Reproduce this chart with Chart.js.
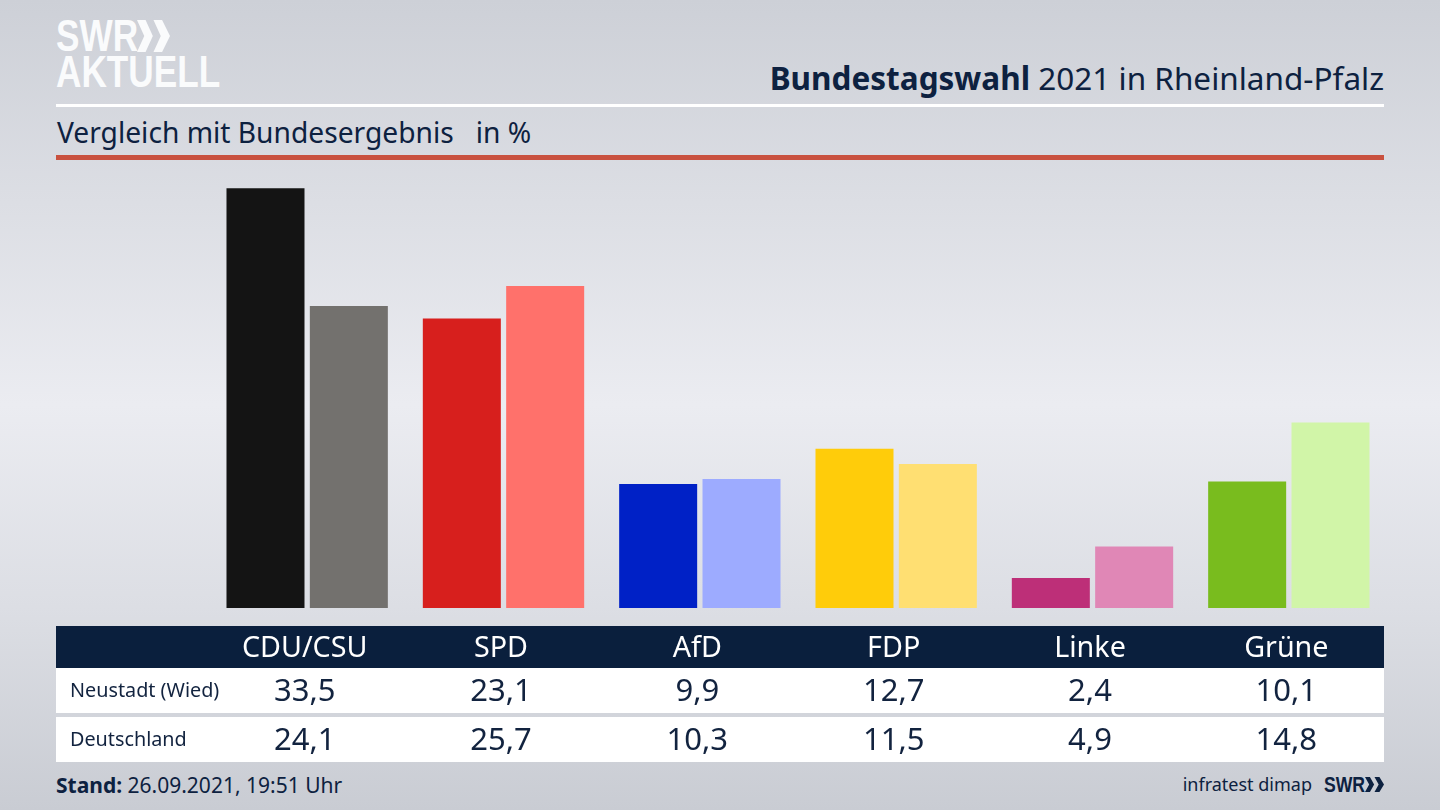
<!DOCTYPE html>
<html lang="de">
<head>
<meta charset="utf-8">
<title>Bundestagswahl 2021 in Rheinland-Pfalz</title>
<script src="https://cdn.jsdelivr.net/npm/chart.js@4"></script>
<style>
  html, body { margin: 0; padding: 0; }
  body {
    position: relative; width: 1440px; height: 810px; overflow: hidden;
    font-family: "Noto Sans", sans-serif; color: #0d2140;
    background: linear-gradient(180deg, #cdd0d7 0%, #dcdee4 25%, #ebecf1 50%, #dcdee4 75%, #c9ccd3 100%);
  }
  .abs { position: absolute; white-space: nowrap; }
  #chart { position: absolute; left: 0; top: 0; z-index: 2; }
  .logo { font-weight: 700; color: #fafbfc; font-family: "Liberation Sans", sans-serif; transform-origin: left top; }
  .band { left: 56px; width: 1328px; }
</style>
</head>
<body>
<div class="abs logo" style="left:56px;top:13px;font-size:44px;line-height:46px;transform:scaleX(0.8);">SWR</div>
<svg class="abs" style="left:137px;top:20px;" width="33" height="32" viewBox="0 0 50 34" preserveAspectRatio="none">
  <path d="M0 0h13l11 17-11 17H0l11-17zM25 0h13l12 17-12 17H25l11-17z" fill="#fafbfc"/>
</svg>
<div class="abs logo" style="left:56px;top:49px;font-size:44px;line-height:46px;transform:scaleX(0.8);">AKTUELL</div>

<div class="abs" style="right:56px;top:57px;font-size:31.5px;line-height:42px;"><b>Bundestagswahl</b> 2021 in Rheinland-Pfalz</div>
<div class="abs band" style="top:104px;height:3px;background:#fff;"></div>
<div class="abs" style="left:57px;top:112px;font-size:28.2px;line-height:40px;">Vergleich mit Bundesergebnis&nbsp;&nbsp; in %</div>
<div class="abs band" style="top:155px;height:5px;background:#c9513f;"></div>

<div class="abs band" style="top:626px;height:42px;background:#0a1f3d;"></div>
<div class="abs band" style="top:668px;height:45px;background:#fff;"></div>
<div class="abs band" style="top:717px;height:45px;background:#fff;"></div>

<div class="abs" style="left:56px;top:772px;font-size:21px;line-height:27px;"><b>Stand:</b> 26.09.2021, 19:51 Uhr</div>
<div class="abs" style="right:128px;top:771px;font-size:18px;line-height:27px;">infratest dimap</div>
<div class="abs" style="left:1324px;top:771px;font-size:22px;line-height:27px;font-weight:700;font-family:'Liberation Sans',sans-serif;transform:scaleX(0.8);transform-origin:left top;">SWR</div>
<svg class="abs" style="left:1365px;top:777px;" width="19" height="15" viewBox="0 0 50 34" preserveAspectRatio="none">
  <path d="M0 0h13l11 17-11 17H0l11-17zM25 0h13l12 17-12 17H25l11-17z" fill="#0d2140"/>
</svg>

<canvas id="chart" width="1440" height="810"></canvas>

<script>
const parties = ['CDU/CSU', 'SPD', 'AfD', 'FDP', 'Linke', 'Grüne'];
const neustadt = [33.5, 23.1, 9.9, 12.7, 2.4, 10.1];
const deutschland = [24.1, 25.7, 10.3, 11.5, 4.9, 14.8];
const neustadtColors = ['#141414', '#d71f1d', '#0021c6', '#ffcc0a', '#bd2f78', '#79bc1e'];
const deutschlandColors = ['#73716e', '#ff716b', '#9dabff', '#ffdf72', '#e087b6', '#d1f5a8'];
const rowLabels = ['Neustadt (Wied)', 'Deutschland'];

const FONT = '"Noto Sans", sans-serif';

function fmt(v) {
  return v.toFixed(1).replace('.', ',');
}

// Zeilen unter dem Diagramm, an der x-Achse ausgerichtet
const tableRows = {
  id: 'tableRows',
  afterDraw(chart) {
    const ctx = chart.ctx;
    const x = chart.scales.x;
    const rows = [[neustadt, 692], [deutschland, 741]];
    ctx.save();
    ctx.fillStyle = '#12233f';
    ctx.textBaseline = 'middle';
    rows.forEach(([values, y], r) => {
      ctx.textAlign = 'left';
      ctx.font = '19.8px ' + FONT;
      ctx.fillText(rowLabels[r], 70, y - 1);
      ctx.textAlign = 'center';
      ctx.font = '31px ' + FONT;
      values.forEach((v, i) => {
        ctx.fillText(fmt(v), x.getPixelForTick(i) - 2.5, y);
      });
    });
    ctx.restore();
  }
};

new Chart(document.getElementById('chart'), {
  type: 'bar',
  data: {
    labels: parties,
    datasets: [
      { label: rowLabels[0], data: neustadt, backgroundColor: neustadtColors },
      { label: rowLabels[1], data: deutschland, backgroundColor: deutschlandColors }
    ]
  },
  options: {
    responsive: false,
    animation: false,
    categoryPercentage: 0.849,
    barPercentage: 0.936,
    layout: { padding: { left: 209, right: 53, top: 157, bottom: 119.6 } },
    plugins: { legend: { display: false }, tooltip: { enabled: false } },
    scales: {
      x: {
        grid: { display: false, drawTicks: false },
        border: { display: false },
        ticks: {
          color: '#ffffff',
          font: { family: FONT, size: 28.7 },
          padding: 24,
          labelOffset: -2.5,
          maxRotation: 0,
          autoSkip: false
        }
      },
      y: { display: false, min: 0, max: 36 }
    }
  },
  plugins: [tableRows]
});
</script>
</body>
</html>
